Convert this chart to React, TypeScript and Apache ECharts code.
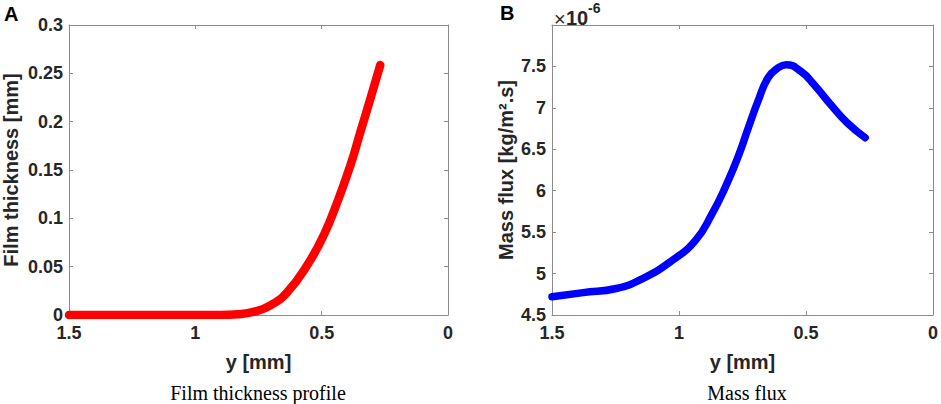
import React, { useEffect, useRef } from "react";
import * as echarts from "echarts";

// Panel A: film thickness [mm] vs y [mm]
const filmY = [1.5, 1.3, 1.1, 0.95, 0.898, 0.832, 0.767, 0.701, 0.635, 0.556, 0.491, 0.438, 0.386, 0.346, 0.307, 0.268];
const filmThickness = [0, 0, 0, 0, 0, 0.0007, 0.0034, 0.0103, 0.024, 0.052, 0.083, 0.117, 0.155, 0.19, 0.224, 0.2586];

// Panel B: mass flux [x1e-6 kg/m^2.s] vs y [mm]
const fluxY = [1.5, 1.377, 1.247, 1.143, 1.026, 0.935, 0.87, 0.818, 0.766, 0.727, 0.689, 0.65, 0.611, 0.578, 0.52, 0.468, 0.403, 0.338, 0.267];
const massFlux = [4.72, 4.77, 4.82, 4.94, 5.16, 5.4, 5.72, 6.04, 6.42, 6.76, 7.08, 7.36, 7.48, 7.52, 7.44, 7.28, 7.04, 6.82, 6.64];

const xTicks = { min: 0, max: 1.5, interval: 0.5 };
const filmTicks = { min: 0, max: 0.3, interval: 0.05 };
const fluxTicks = { min: 4.5, max: 8, interval: 0.5 };

const AXIS_GRAY = "#8c8c8c";
const TEXT = "#262626";
const SANS = "Liberation Sans";
const SERIF = "Liberation Serif";

export default function App() {
  const ref = useRef<HTMLDivElement>(null);
  useEffect(() => {
    if (!ref.current) return;
    const chart = echarts.init(ref.current, undefined, { renderer: "svg" });
    const axisLine = { show: true, onZero: false, lineStyle: { color: AXIS_GRAY, width: 1 } };
    const axisTick = { show: true, inside: true, length: 4, lineStyle: { color: AXIS_GRAY } };
    const label = { color: TEXT, fontFamily: SANS, fontWeight: "bold" as const, fontSize: 18 };
    const nameStyle = { color: TEXT, fontFamily: SANS, fontWeight: "bold" as const, fontSize: 20 };

    const mkX = (grid: number) => [
      {
        type: "value", gridIndex: grid, inverse: true, ...xTicks, position: "bottom",
        axisLine, axisTick, splitLine: { show: false },
        axisLabel: { ...label, margin: 9 },
        name: "y [mm]", nameLocation: "middle", nameGap: 37, nameTextStyle: nameStyle,
      },
      {
        type: "value", gridIndex: grid, inverse: true, ...xTicks, position: "top",
        axisLine, axisTick, splitLine: { show: false }, axisLabel: { show: false },
      },
    ];

    chart.setOption({
      animation: false,
      grid: [
        { left: 67, top: 25, width: 381, height: 290 },
        { left: 552, top: 25, width: 384, height: 290 },
      ],
      xAxis: [...mkX(0), ...mkX(1)],
      yAxis: [
        {
          type: "value", gridIndex: 0, ...filmTicks, position: "left",
          axisLine, axisTick, splitLine: { show: false },
          axisLabel: { ...label, margin: 6 },
          name: "Film thickness [mm]", nameLocation: "middle", nameGap: 48, nameTextStyle: nameStyle,
        },
        {
          type: "value", gridIndex: 0, ...filmTicks, position: "right",
          axisLine, axisTick, splitLine: { show: false }, axisLabel: { show: false },
        },
        {
          type: "value", gridIndex: 1, ...fluxTicks, position: "left",
          axisLine, axisTick, splitLine: { show: false },
          axisLabel: { ...label, margin: 6, formatter: (v: number) => (v === 8 ? "" : String(v)) },
          name: "Mass flux [kg/m².s]", nameLocation: "middle", nameGap: 36, nameTextStyle: nameStyle,
        },
        {
          type: "value", gridIndex: 1, ...fluxTicks, position: "right",
          axisLine, axisTick, splitLine: { show: false }, axisLabel: { show: false },
        },
      ],
      series: [
        {
          type: "line", xAxisIndex: 0, yAxisIndex: 0, smooth: 0.5, showSymbol: false,
          data: filmY.map((x, i) => [x, filmThickness[i]]),
          lineStyle: { color: "#ff0000", width: 8.5, cap: "round", join: "round" },
        },
        {
          type: "line", xAxisIndex: 2, yAxisIndex: 2, smooth: 0.5, showSymbol: false,
          data: fluxY.map((x, i) => [x, massFlux[i]]),
          lineStyle: { color: "#0000ff", width: 7.5, cap: "round", join: "round" },
        },
      ],
      graphic: [
        { type: "text", left: 4, top: 4, style: { text: "A", fontFamily: SANS, fontWeight: "bold", fontSize: 20, fill: "#000" } },
        { type: "text", left: 500, top: 3, style: { text: "B", fontFamily: SANS, fontWeight: "bold", fontSize: 20, fill: "#000" } },
        { type: "text", left: 554, top: 9, style: { text: "×", fontFamily: SANS, fontSize: 20, fill: TEXT } },
        { type: "text", left: 566, top: 8, style: { text: "10", fontFamily: SANS, fontWeight: "bold", fontSize: 20, fill: TEXT } },
        { type: "text", left: 588, top: 1, style: { text: "-6", fontFamily: SANS, fontWeight: "bold", fontSize: 14, fill: TEXT } },
        { type: "text", x: 258, y: 393, style: { text: "Film thickness profile", fontFamily: SERIF, fontSize: 20, fill: "#000", align: "center", verticalAlign: "middle" } },
        { type: "text", x: 747, y: 393, style: { text: "Mass flux", fontFamily: SERIF, fontSize: 20, fill: "#000", align: "center", verticalAlign: "middle" } },
      ],
    });
    return () => chart.dispose();
  }, []);
  return (
    <div
      ref={ref}
      style={{ position: "fixed", left: 0, top: 0, width: 941, height: 404, background: "#fff" }}
    />
  );
}
